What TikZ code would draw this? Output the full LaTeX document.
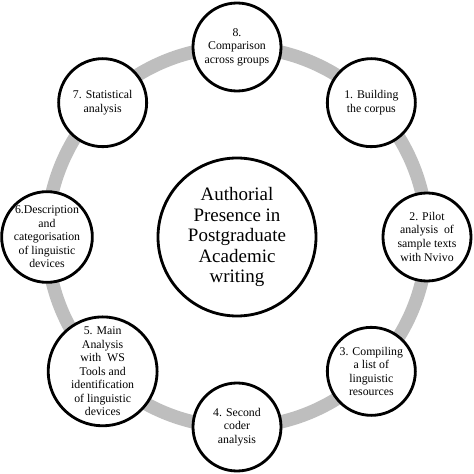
\documentclass[tikz,border=0pt]{standalone}
\usepackage{fontspec}
\setmainfont{Liberation Serif}
\usetikzlibrary{calc}
\definecolor{ringgray}{RGB}{190,190,190}
\tikzset{
  stage/.style={draw=black, line width=2pt, circle, fill=white, minimum size=2.2cm,
    inner sep=0pt, align=center, font=\fontsize{8.4}{9.6}\selectfont},
  hub/.style={draw=black, line width=2pt, circle, fill=white, minimum size=3.95cm,
    inner sep=0pt, align=center, font=\fontsize{13.5}{14.6}\selectfont}
}
\begin{document}
\begin{tikzpicture}
    \useasboundingbox (0,0) rectangle (11.85,11.85);
    \coordinate (c) at (5.925,5.925);
    \draw[ringgray, line width=9.5pt] (c) circle (4.75cm);
    \node[hub] (center) at (c) {Authorial\\Presence in\\Postgraduate\\Academic\\writing};
    \node[stage] (s8) at ($(c)+(90:4.75)$) {8.\\Comparison\\across groups};
    \node[stage] (s1) at ($(c)+(45:4.75)$) {1. Building\\the corpus};
    \node[stage] (s2) at ($(c)+(0:4.75)$) {2. Pilot\\analysis~ of\\sample texts\\[1pt]with Nvivo};
    \node[stage] (s3) at ($(c)+(-45:4.75)$) {3. Compiling\\a list of\\linguistic\\resources};
    \node[stage] (s4) at ($(c)+(-90:4.75)$) {4. Second\\coder\\analysis};
    \node[stage] (s5) at ($(c)+(-135:4.75)$) {5. Main\\Analysis\\with~ WS\\Tools and\\identification\\of linguistic\\devices};
    \node[stage] (s6) at ($(c)+(180:4.75)$) {6.Description\\and\\categorisation\\of linguistic\\devices};
    \node[stage] (s7) at ($(c)+(135:4.75)$) {7. Statistical\\analysis};
\end{tikzpicture}
\end{document}
